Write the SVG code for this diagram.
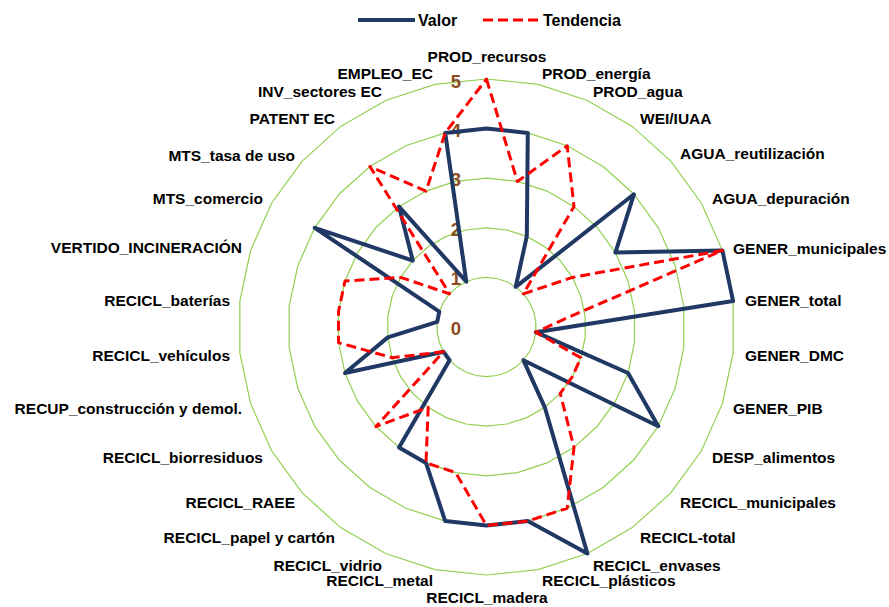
<svg xmlns="http://www.w3.org/2000/svg" xmlns:xlink="http://www.w3.org/1999/xlink" width="889" height="607" viewBox="0 0 889 607">
<style>
.lbl{font-family:"Liberation Sans",Arial,sans-serif;font-weight:bold;font-size:15.5px;fill:#000}
.s{text-anchor:start}.e{text-anchor:end}.m{text-anchor:middle}
.num{font-family:"Liberation Sans",Arial,sans-serif;font-weight:bold;font-size:18.5px;fill:#8B4C1F;text-anchor:middle}
.leg{font-family:"Liberation Sans",Arial,sans-serif;font-weight:bold;font-size:16px;fill:#000}
.grid{fill:none;stroke:#92D050}
.valor{fill:none;stroke:#203864;stroke-width:4;stroke-linejoin:round}
.tend{fill:none;stroke:#FF0000;stroke-width:3;stroke-dasharray:10 5;stroke-linejoin:round}
</style>
<defs>
<polygon id="ring" points="0,-1 .2079,-.9781 .4067,-.9135 .5878,-.8090 .7431,-.6691 .8660,-.5 .9511,-.3090 .9945,-.1045 .9945,.1045 .9511,.3090 .8660,.5 .7431,.6691 .5878,.8090 .4067,.9135 .2079,.9781 0,1 -.2079,.9781 -.4067,.9135 -.5878,.8090 -.7431,.6691 -.8660,.5 -.9511,.3090 -.9945,.1045 -.9945,-.1045 -.9511,-.3090 -.8660,-.5 -.7431,-.6691 -.5878,-.8090 -.4067,-.9135 -.2079,-.9781"/>
</defs>
<rect width="889" height="607" fill="#fff"/>
<g id="grid" class="grid">
<use xlink:href="#ring" transform="translate(486.5 327) scale(49.6)" stroke-width="0.0242"/>
<use xlink:href="#ring" transform="translate(486.5 327) scale(99.2)" stroke-width="0.0121"/>
<use xlink:href="#ring" transform="translate(486.5 327) scale(148.8)" stroke-width="0.00806"/>
<use xlink:href="#ring" transform="translate(486.5 327) scale(198.4)" stroke-width="0.00605"/>
<use xlink:href="#ring" transform="translate(486.5 327) scale(248)" stroke-width="0.00484"/>
</g>
<g id="scale">
<text class="num" x="456" y="335">0</text>
<text class="num" x="456" y="285.4">1</text>
<text class="num" x="456" y="235.8">2</text>
<text class="num" x="456" y="186.2">3</text>
<text class="num" x="456" y="136.6">4</text>
<text class="num" x="456" y="87.5">5</text>
</g>
<g id="series">
<polygon id="valor" class="valor" points="486.5,128.6 527.8,132.9 526.8,236.4 515.7,286.9 633.9,194.3 615.4,252.6 722.4,250.4 733.1,301.1 535.8,332.2 628.0,373.0 658.3,426.2 523.4,360.2 544.8,407.3 587.4,553.5 527.8,521.1 486.5,525.4 445.2,521.1 426.0,462.9 399.0,447.4 449.6,360.2 443.5,351.8 345.0,373.0 387.8,337.4 437.2,321.8 439.3,311.7 314.7,227.8 412.8,260.6 399.0,206.6 466.3,281.7 445.2,132.9"/>
<polygon id="tendencia" class="tend" points="486.5,79 517.4,181.5 567.2,145.8 574.0,206.6 523.4,293.8 572.4,277.4 722.4,250.4 565.4,318.7 535.8,332.2 580.8,357.7 572.4,376.6 560.2,393.4 574.0,447.4 567.2,508.2 527.8,521.1 486.5,525.4 455.6,472.5 426.0,462.9 428.2,407.3 375.9,426.6 443.5,351.8 392.2,357.7 338.5,342.6 338.5,311.5 345.0,281.0 400.6,277.4 449.6,293.8 369.9,166.5 426.0,191.1 445.2,132.9"/>
</g>
<g id="labels">
<text class="lbl m" x="487" y="62">PROD_recursos</text>
<text class="lbl s" x="542" y="79">PROD_energía</text>
<text class="lbl s" x="593" y="97">PROD_agua</text>
<text class="lbl s" x="640" y="123.5">WEI/IUAA</text>
<text class="lbl s" x="680" y="159">AGUA_reutilización</text>
<text class="lbl s" x="712" y="203.5">AGUA_depuración</text>
<text class="lbl s" x="733" y="253.5">GENER_municipales</text>
<text class="lbl s" x="745" y="305.5">GENER_total</text>
<text class="lbl s" x="745" y="360.5">GENER_DMC</text>
<text class="lbl s" x="733" y="413.5">GENER_PIB</text>
<text class="lbl s" x="712" y="462.5">DESP_alimentos</text>
<text class="lbl s" x="680" y="507.5">RECICL_municipales</text>
<text class="lbl s" x="640" y="542.5">RECICL-total</text>
<text class="lbl s" x="593" y="570.5">RECICL_envases</text>
<text class="lbl s" x="542" y="585.5">RECICL_plásticos</text>
<text class="lbl m" x="487" y="603">RECICL_madera</text>
<text class="lbl e" x="433" y="586">RECICL_metal</text>
<text class="lbl e" x="382" y="570.5">RECICL_vidrio</text>
<text class="lbl e" x="335" y="542.5">RECICL_papel y cartón</text>
<text class="lbl e" x="295" y="507.5">RECICL_RAEE</text>
<text class="lbl e" x="263" y="462.5">RECICL_biorresiduos</text>
<text class="lbl e" x="242" y="414">RECUP_construcción y demol.</text>
<text class="lbl e" x="230" y="360.5">RECICL_vehículos</text>
<text class="lbl e" x="230" y="305.5">RECICL_baterías</text>
<text class="lbl e" x="242" y="252.5">VERTIDO_INCINERACIÓN</text>
<text class="lbl e" x="263" y="203.5">MTS_comercio</text>
<text class="lbl e" x="295" y="160.5">MTS_tasa de uso</text>
<text class="lbl e" x="335" y="123.5">PATENT EC</text>
<text class="lbl e" x="382" y="97">INV_sectores EC</text>
<text class="lbl e" x="433" y="79">EMPLEO_EC</text>
</g>
<g id="legend">
<line x1="358" y1="20" x2="415" y2="20" stroke="#203864" stroke-width="4"/>
<text class="leg" x="418" y="26">Valor</text>
<line x1="483" y1="20" x2="538" y2="20" stroke="#FF0000" stroke-width="3" stroke-dasharray="10 5"/>
<text class="leg" x="543" y="26">Tendencia</text>
</g>
</svg>
